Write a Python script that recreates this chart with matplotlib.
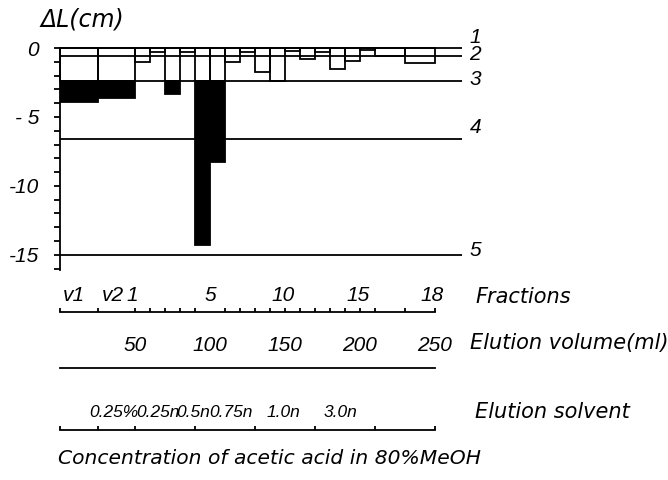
import matplotlib
matplotlib.use("Agg")
import matplotlib.pyplot as plt
from matplotlib.ticker import FixedLocator, NullFormatter

# ---------------- data ----------------
fraction_names = ['v1', 'v2'] + [str(i) for i in range(1, 19)]
# elution volume (ml) bounding each fraction
volume_edges = [0, 25, 50, 60, 70, 80, 90, 100, 110, 120, 130, 140, 150,
                160, 170, 180, 190, 200, 210, 230, 250]
delta_L = [-3.9, -3.6, -1.0, -0.3, -3.3, -0.3, -14.3, -8.3, -1.0, -0.3,
           -1.75, -2.4, -0.2, -0.8, -0.3, -1.55, -0.95, -0.15, -0.6, -1.1]
reference_levels = [0.0, -0.6, -2.4, -6.6, -15.0]
reference_names = ['1', '2', '3', '4', '5']

fraction_tick_labels = ['v1', 'v2', '1', '5', '10', '15', '18']
fraction_label_volume = [9.5, 35.5, 48, 100, 149, 199, 248]

volume_ticks = [0, 50, 100, 150, 200, 250]
volume_labels = ['', '50', '100', '150', '200', '250']

solvent_edges = [0, 25, 50, 90, 130, 170, 210, 250]
solvent_labels = ['0.25%', '0.25n', '0.5n', '0.75n', '1.0n', '3.0n']
solvent_label_volume = [36, 65, 89, 114, 149, 187]

ylabels = ['0', '- 5', '-10', '-15']
yticks = [0, -5, -10, -15]

# ---------------- style ----------------
plt.rcParams['font.family'] = ['DejaVu Sans']
plt.rcParams['font.style'] = 'italic'
NUM_FAMILY = ['Liberation Sans', 'DejaVu Sans']

FS_WORD = 15
FS_NUM = 15
FS_SOLV = 12.5
LW = 1.3
W, H = 668, 480

fig = plt.figure(figsize=(W / 100, H / 100), dpi=100)
fig.patch.set_facecolor('white')

x_left, x_right = 60, 462
XMAX = 268
ax = fig.add_axes([x_left / W, 1 - 270 / H, (x_right - x_left) / W, 222 / H])
ax.set_xlim(0, XMAX)
ax.set_ylim(-16.1, 0)

threshold = reference_levels[2]
for i, v in enumerate(delta_L):
    left = volume_edges[i]
    width = volume_edges[i + 1] - volume_edges[i]
    open_bottom = max(v, threshold)
    ax.bar(left, open_bottom, width=width, align='edge', bottom=0,
           fill=False, edgecolor='black', linewidth=LW, clip_on=False)
    if v < threshold:
        ax.bar(left, v - threshold, width=width, align='edge', bottom=threshold,
               color='black', edgecolor='black', linewidth=LW)

label_offsets = [0.75, 0.1, 0.1, 0.8, 0.3]
for lev, name, off in zip(reference_levels, reference_names, label_offsets):
    ax.hlines(lev, 0, XMAX, color='black', linewidth=LW, clip_on=False)
    ax.text(XMAX + 5, lev + off, name, fontsize=FS_NUM, va='center', ha='left',
            style='italic', family=NUM_FAMILY)

for s in ['top', 'right', 'bottom']:
    ax.spines[s].set_visible(False)
ax.spines['left'].set_linewidth(LW)
ax.set_xticks([])
ax.set_yticks(yticks)
ax.set_yticklabels(ylabels, fontsize=FS_NUM, style='italic', family=NUM_FAMILY)
ax.yaxis.set_minor_locator(FixedLocator(list(range(0, -17, -1))))
ax.tick_params(axis='y', which='both', direction='out', length=4, width=LW,
               pad=11)
fig.text(40 / W, 1 - 20 / H, 'ΔL(cm)', fontsize=17, style='italic',
         ha='left', va='center')


def scale_axis(y_px, minor_ticks, major_pos, major_labels, pad, fs):
    sa = fig.add_axes([x_left / W, 1 - y_px / H, (x_right - x_left) / W, 0.5 / H])
    sa.set_xlim(0, XMAX)
    sa.set_ylim(0, 1)
    sa.patch.set_visible(False)
    for s in ['top', 'right', 'left']:
        sa.spines[s].set_visible(False)
    sa.spines['bottom'].set_bounds(0, 250)
    sa.spines['bottom'].set_linewidth(LW)
    sa.set_yticks([])
    sa.xaxis.set_minor_locator(FixedLocator(minor_ticks))
    sa.xaxis.set_minor_formatter(NullFormatter())
    sa.set_xticks(major_pos)
    sa.set_xticklabels(major_labels, fontsize=fs, style='italic', family=NUM_FAMILY)
    sa.tick_params(axis='x', which='minor', bottom=True, top=False,
                   direction='in', length=3, width=LW)
    sa.tick_params(axis='x', which='major', bottom=False, top=False,
                   labelbottom=False, labeltop=True, length=0, pad=pad)
    return sa


scale_axis(312, volume_edges, fraction_label_volume, fraction_tick_labels, 5, FS_NUM)
scale_axis(368, volume_ticks, volume_ticks, volume_labels, 9, FS_NUM)
scale_axis(430, solvent_edges, solvent_label_volume, solvent_labels, 7, FS_SOLV)

fig.text(475 / W, 1 - 297 / H, 'Fractions', fontsize=FS_WORD, style='italic',
         va='center', ha='left')
fig.text(470 / W, 1 - 343 / H, 'Elution volume(ml)', fontsize=FS_WORD,
         style='italic', va='center', ha='left')
fig.text(475 / W, 1 - 412 / H, 'Elution solvent', fontsize=FS_WORD,
         style='italic', va='center', ha='left')
fig.text(58 / W, 1 - 458 / H, 'Concentration of acetic acid in 80%MeOH',
         fontsize=14.6, style='italic', va='center', ha='left')

fig.savefig('out.png', dpi=100, facecolor='white')
